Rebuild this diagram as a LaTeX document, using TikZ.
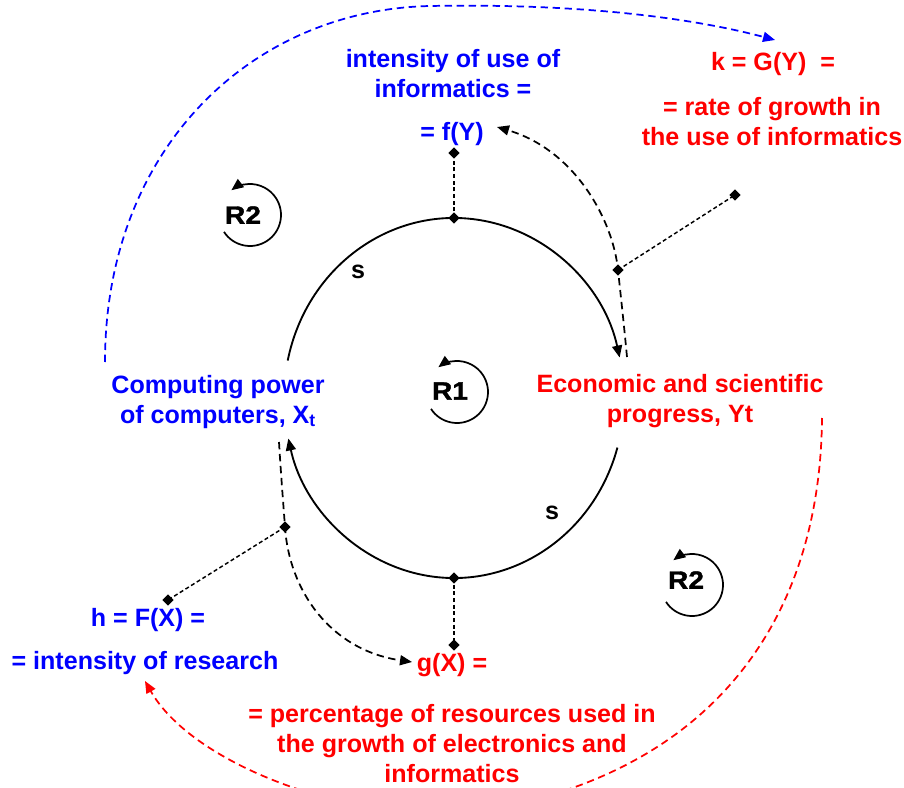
\documentclass[tikz,border=0pt]{standalone}
\usepackage{fontspec}
\setmainfont{Liberation Sans}
\newfontfamily\heavyfont[FakeBold=1.5,FakeStretch=1.12]{Liberation Sans Bold}
\usetikzlibrary{arrows.meta,shapes.geometric}
\definecolor{cblue}{RGB}{0,0,255}
\definecolor{cred}{RGB}{255,0,0}
\begin{document}
\begin{tikzpicture}[x=0.75pt,y=-0.75pt,
  txt/.style={font=\fontsize{18.8}{22.5}\selectfont\bfseries, align=center, inner sep=0pt},
  bl/.style={txt, text=cblue},
  rd/.style={txt, text=cred},
  bk/.style={txt, text=black},
  rlab/.style={font=\fontsize{18.8}{22.5}\selectfont\heavyfont, inner sep=0pt},
  dia/.style={diamond, fill=black, inner sep=0pt, minimum size=8.5pt},
  tip/.style={-{Triangle[length=9pt,width=7.5pt]}},
  mainarc/.style={line width=1.4pt, tip},
  dcurve/.style={line width=1.3pt, dash pattern=on 5.5pt off 3.5pt, tip},
  dline/.style={line width=1.1pt, dash pattern=on 3pt off 2pt},
  loopc/.style={line width=1.3pt, tip},
]
\useasboundingbox (0,0) rectangle (904,788);

% texts
\node[bl] (nint) at (453,74) {intensity of use of\\informatics =};
\node[bl] (nfY) at (452,134) {= f(Y)};
\node[rd] (nk) at (773,64) {k = G(Y)~~=};
\node[rd] (nrate) at (772,122) {= rate of growth in\\the use of informatics};
\node[bl] (ncomp) at (218,402) {Computing power\\of computers, X\textsubscript{t}};
\node[rd] (necon) at (680,401) {Economic and scientific\\progress, Yt};
\node[bl] (nh) at (148,620) {h = F(X) =};
\node[bl] (nres) at (145,663) {= intensity of research};
\node[rd] (ng) at (452,665) {g(X) =};
\node[rd] (nperc) at (452,744) {= percentage of resources used in\\the growth of electronics and\\informatics};
\node[bk] (s1) at (358,272) {s};
\node[bk] (s2) at (552,513) {s};
\node[rlab] (R1) at (450,391) {R1};
\node[rlab] (R2a) at (243,215) {R2};
\node[rlab] (R2b) at (686,580) {R2};

% loop icons
\coordinate (L1) at (457,392);
\coordinate (L2) at (250,215);
\coordinate (L3) at (692,585);
\foreach \c in {L1,L2,L3}{
  \draw[loopc] (\c) ++(147:31) arc[start angle=147,end angle=-127,radius=31];
}

% main circle arcs
\coordinate (aTL) at ({454+170*cos(-168)},{398+180*sin(-168)});
\coordinate (aBR) at ({454+170*cos(16)},{398+180*sin(16)});
\draw[mainarc] (aTL) arc[start angle=-168,end angle=-13,x radius=170,y radius=180];
\draw[mainarc] (aBR) arc[start angle=16,end angle=167,x radius=170,y radius=180];

% diamonds
\node[dia] (dT) at (454,218) {};
\node[dia] (dT2) at (454,153) {};
\node[dia] (dB) at (454,578) {};
\node[dia] (dB2) at (454,645) {};
\node[dia] (dR) at (618,270) {};
\node[dia] (dR2) at (735,195) {};
\node[dia] (dL) at (285,527) {};
\node[dia] (dL2) at (168,600) {};

\draw[dline] (dT.center) -- (dT2.center);
\draw[dline] (dB.center) -- (dB2.center);
\draw[dline] (dR.center) -- (dR2.center);
\draw[dline] (dL.center) -- (dL2.center);

% black dashed curves
\coordinate (ce1) at (627,357);
\coordinate (fyin) at (497,127);
\draw[dcurve] (ce1) .. controls (624,325) and (621,298) .. (dR.center)
  .. controls (613,220) and (575,150) .. (fyin);
\coordinate (cc1) at (279,442);
\coordinate (gin) at (412,662);
\draw[dcurve] (cc1) .. controls (281,475) and (283,500) .. (dL.center)
  .. controls (289,590) and (330,650) .. (gin);

% blue dashed curve
\coordinate (cb1) at (105,362);
\coordinate (kin) at (775,40);
\draw[dcurve, cblue] (cb1) .. controls (105,150) and (250,10) .. (430,6)
  .. controls (590,3) and (700,20) .. (kin);

% red dashed curve
\coordinate (cr1) at (822,418);
\coordinate (resin) at (145,681);
\begin{scope}
\clip (0,0) rectangle (904,788);
\draw[dcurve, cred] (cr1) .. controls (820,650) and (680,790) .. (450,815)
  .. controls (330,815) and (190,760) .. (resin);
\end{scope}
\end{tikzpicture}
\end{document}
